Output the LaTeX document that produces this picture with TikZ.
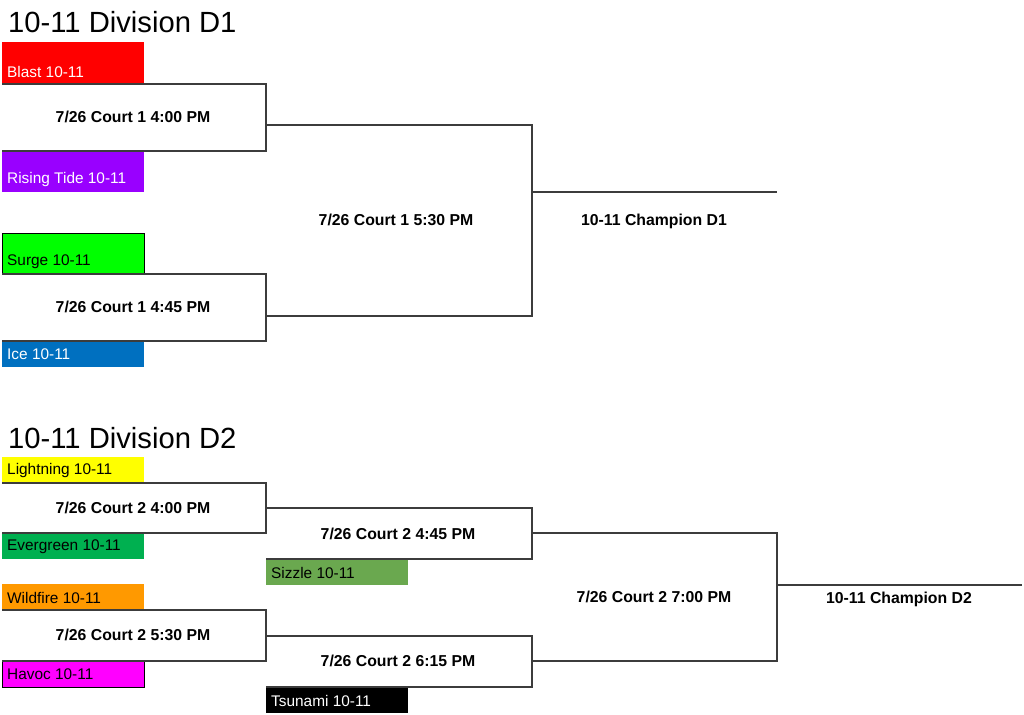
\documentclass[tikz,border=0pt]{standalone}
\usepackage{fontspec}
\setmainfont{Liberation Sans}
\usetikzlibrary{positioning}

\definecolor{cBlast}{HTML}{FF0000}
\definecolor{cTide}{HTML}{9900FF}
\definecolor{cSurge}{HTML}{00FF00}
\definecolor{cIce}{HTML}{0070C0}
\definecolor{cLightning}{HTML}{FFFF00}
\definecolor{cEvergreen}{HTML}{00B050}
\definecolor{cWildfire}{HTML}{FF9900}
\definecolor{cHavoc}{HTML}{FF00FF}
\definecolor{cSizzle}{HTML}{6AA84F}
\definecolor{cTsunami}{HTML}{000000}
\definecolor{bracketline}{HTML}{3C3C3C}

\tikzset{
    team/.style={anchor=west, inner sep=0pt, font=\fontsize{15.4}{18}\selectfont},
    game/.style={inner sep=0pt, font=\bfseries\fontsize{15.8}{18}\selectfont},
    title/.style={anchor=base west, inner sep=0pt, font=\fontsize{29.2}{34}\selectfont},
    bracket/.style={line width=1.3pt, bracketline}
}

\begin{document}
\begin{tikzpicture}[x=1pt, y=-1pt]
        \useasboundingbox[fill=white] (0,0) rectangle (1024,714);

        % team boxes (name/fill/text colour/left/top/bottom/label)
        \foreach \nm/\fc/\tc/\xa/\ya/\yb/\lbl in {
            blast/cBlast/white/2/42/84/Blast 10-11,
            tide/cTide/white/2/151/192/Rising Tide 10-11,
            surge/cSurge/black/2/233/274/Surge 10-11,
            ice/cIce/white/2/341/367/Ice 10-11,
            lightning/cLightning/black/2/457/483/Lightning 10-11,
            evergreen/cEvergreen/black/2/533/559/Evergreen 10-11,
            wildfire/cWildfire/black/2/584/610/Wildfire 10-11,
            havoc/cHavoc/black/2/661/687/Havoc 10-11,
            sizzle/cSizzle/black/266/559/585/Sizzle 10-11,
            tsunami/cTsunami/white/266/687/713/Tsunami 10-11} {
            \fill[\fc] (\xa,\ya) rectangle (\xa+142,\yb);
            \node[team, text=\tc] (\nm) at (\xa+5,\yb-12.5) {\lbl};
        }
        % outlined boxes
        \draw[line width=1pt] (2,233) rectangle (144,274);
        \draw[line width=1pt] (2,661) rectangle (144,687);

        % Division D1
        \begin{scope}
            \node[title] (titleA) at (8,33) {10-11 Division D1};

            \draw[bracket] (2,84) -- (266,84) -- (266,151) -- (2,151);
            \node[game] (gA1) at (133,117) {7/26 Court 1 4:00 PM};

            \draw[bracket] (2,274) -- (266,274) -- (266,341) -- (2,341);
            \node[game] (gA2) at (133,307) {7/26 Court 1 4:45 PM};

            \coordinate (wA1) at (266,125);
            \coordinate (wA2) at (266,316);
            \draw[bracket] (wA1) -- (532,125) -- (532,316) -- (wA2);
            \node[game] (gA3) at (396,220) {7/26 Court 1 5:30 PM};

            \coordinate (cA) at (777,192);
            \draw[bracket] (532,192) -- (cA);
            \node[game] (champA) at (654,221) {10-11 Champion D1};
        \end{scope}

        % Division D2
        \begin{scope}
            \node[title] (titleB) at (8,448) {10-11 Division D2};

            \draw[bracket] (2,483) -- (266,483) -- (266,533) -- (2,533);
            \node[game] (gB1) at (133,508) {7/26 Court 2 4:00 PM};

            \draw[bracket] (2,610) -- (266,610) -- (266,661) -- (2,661);
            \node[game] (gB2) at (133,635) {7/26 Court 2 5:30 PM};

            \draw[bracket] (266,508) -- (532,508) -- (532,559) -- (266,559);
            \node[game] (gB3) at (398,534) {7/26 Court 2 4:45 PM};

            \draw[bracket] (266,636) -- (532,636) -- (532,687) -- (266,687);
            \node[game] (gB4) at (398,661) {7/26 Court 2 6:15 PM};

            \draw[bracket] (532,533) -- (777,533) -- (777,661) -- (532,661);
            \node[game] (gB5) at (654,597) {7/26 Court 2 7:00 PM};

            \coordinate (cB) at (1022,585);
            \draw[bracket] (777,585) -- (cB);
            \node[game] (champB) at (899,599) {10-11 Champion D2};
        \end{scope}

    \end{tikzpicture}
\end{document}
